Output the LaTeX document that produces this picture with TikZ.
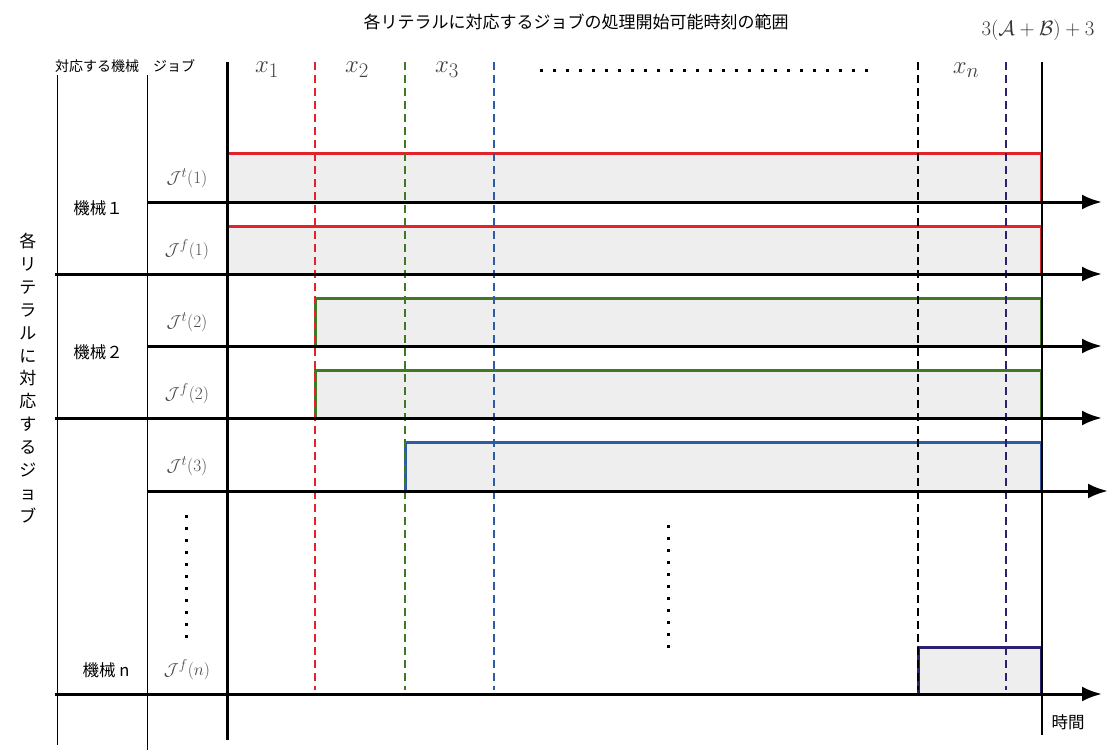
\documentclass[tikz,border=0pt]{standalone}
\usepackage{fontspec}
\newfontfamily\jp{Noto Sans CJK JP}
\usetikzlibrary{arrows.meta}
\definecolor{cred}{HTML}{E3232B}
\definecolor{cgreen}{HTML}{3F7A22}
\definecolor{cblue}{HTML}{2D5BA6}
\definecolor{cpurple}{HTML}{2E2070}
\definecolor{cfill}{HTML}{EEEEEE}
\begin{document}
\begin{tikzpicture}[x=1pt,y=-1pt,
  thinline/.style={line width=1pt,black},
  thickline/.style={line width=3pt,black},
  axis/.style={line width=3pt,black,-{Latex[length=20pt,width=15pt]}},
  jobbox/.style={line width=3pt,fill=cfill},
  vdash/.style={line width=1.8pt,dash pattern=on 8pt off 5pt},
  dots/.style={line width=3pt,dash pattern=on 3pt off 10pt},
  jtxt/.style={font=\jp\fontsize{16.5}{20}\selectfont,inner sep=0pt},
  jlab/.style={font=\fontsize{19}{22}\selectfont,text=black!70,inner sep=0pt},
  xlab/.style={font=\fontsize{31}{34}\selectfont,text=black!75,inner sep=0pt}]
\useasboundingbox (0,0) rectangle (1117,755);
% boxes
\draw[jobbox,draw=cred] (227,153) rectangle (1041,202);
\draw[jobbox,draw=cred] (227,226) rectangle (1041,274);
\draw[jobbox,draw=cgreen] (315,298) rectangle (1041,346);
\draw[jobbox,draw=cgreen] (315,370) rectangle (1041,418);
\draw[jobbox,draw=cblue] (405,442) rectangle (1041,491);
\draw[jobbox,draw=cpurple] (918,647) rectangle (1041,694);
% dashed verticals
\coordinate (r1) at (315,62); \coordinate (r2) at (315,690);
\coordinate (g1) at (405,62); \coordinate (g2) at (405,690);
\coordinate (b1) at (494,62); \coordinate (b2) at (494,690);
\coordinate (k1) at (918,62); \coordinate (k2) at (918,690);
\coordinate (p1) at (1006,62); \coordinate (p2) at (1006,690);
\draw[vdash,cred] (r1) -- (r2);
\draw[vdash,cgreen] (g1) -- (g2);
\draw[vdash,cblue] (b1) -- (b2);
\draw[vdash,black] (k1) -- (k2);
\draw[vdash,cpurple] (p1) -- (p2);
% table verticals
\coordinate (v1a) at (57,75); \coordinate (v1b) at (57,745);
\coordinate (v2a) at (147,75); \coordinate (v2b) at (147,750);
\coordinate (v3a) at (227,62); \coordinate (v3b) at (227,740);
\coordinate (v4a) at (1042,62); \coordinate (v4b) at (1042,735);
\draw[thinline] (v1a) -- (v1b);
\draw[thinline] (v2a) -- (v2b);
\draw[thickline] (v3a) -- (v3b);
\draw[line width=2pt] (v4a) -- (v4b);
% axes
\coordinate (a1s) at (147,202); \coordinate (a1e) at (1102,202);
\coordinate (a2s) at (55,274); \coordinate (a2e) at (1102,274);
\coordinate (a3s) at (147,346); \coordinate (a3e) at (1102,346);
\coordinate (a4s) at (55,418); \coordinate (a4e) at (1102,418);
\coordinate (a5s) at (147,491); \coordinate (a5e) at (1108,491);
\coordinate (a6s) at (55,694); \coordinate (a6e) at (1102,694);
\draw[axis] (a1s) -- (a1e);
\draw[axis] (a2s) -- (a2e);
\draw[axis] (a3s) -- (a3e);
\draw[axis] (a4s) -- (a4e);
\draw[axis] (a5s) -- (a5e);
\draw[axis] (a6s) -- (a6e);
% dots
\coordinate (hd1) at (540,70); \coordinate (hd2) at (868,70);
\draw[dots] (hd1) -- (hd2);
\coordinate (vd1) at (186,515); \coordinate (vd2) at (186,638);
\draw[dots,dash pattern=on 3pt off 9pt] (vd1) -- (vd2);
\coordinate (vd3) at (668,525); \coordinate (vd4) at (668,648);
\draw[dots,dash pattern=on 3pt off 9pt] (vd3) -- (vd4);
% texts
\node[jtxt,font=\jp\fontsize{17}{20}\selectfont] (title) at (576,22) {各リテラルに対応するジョブの処理開始可能時刻の範囲};
\node[font=\fontsize{21}{24}\selectfont,text=black!80,inner sep=0pt] (tmax) at (1038,30) {$3(\mathcal{A}+\mathcal{B})+3$};
\node[jtxt,font=\jp\fontsize{14}{16}\selectfont] (hmach) at (97,66) {対応する機械};
\node[jtxt,font=\jp\fontsize{14}{16}\selectfont] (hjob) at (174,66) {ジョブ};
\node[xlab] (x1) at (267,70) {$x_1$};
\node[xlab] (x2) at (357,70) {$x_2$};
\node[xlab] (x3) at (447,70) {$x_3$};
\node[xlab] (xn) at (966,70) {$x_n$};
\node[jtxt] (m1) at (98,208) {機械１};
\node[jtxt] (m2) at (98,352) {機械２};
\node[jtxt] (mn) at (106,670) {機械 n};
\node[jlab] (jt1) at (187,178) {$\mathcal{J}^t(1)$};
\node[jlab] (jf1) at (187,250) {$\mathcal{J}^f(1)$};
\node[jlab] (jt2) at (187,322) {$\mathcal{J}^t(2)$};
\node[jlab] (jf2) at (187,394) {$\mathcal{J}^f(2)$};
\node[jlab] (jt3) at (187,466) {$\mathcal{J}^t(3)$};
\node[jlab] (jfn) at (187,670) {$\mathcal{J}^f(n)$};
\node[jtxt,align=center,font=\jp\fontsize{17}{22.9}\selectfont] (vert) at (28,378) {各\\リ\\テ\\ラ\\ル\\に\\対\\応\\す\\る\\ジ\\ョ\\ブ};
\node[jtxt] (time) at (1068,722) {時間};
\end{tikzpicture}
\end{document}
